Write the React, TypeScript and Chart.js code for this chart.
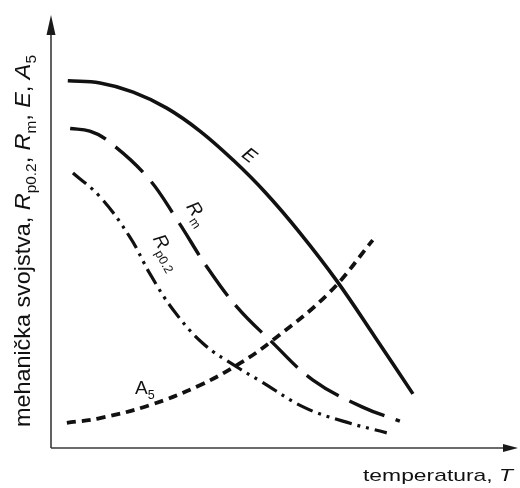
import { useEffect, useRef } from "react";
import { Chart, registerables } from "chart.js";

Chart.register(...registerables);

// Temperature (0-100, arbitrary units) and property values (0-100, arbitrary units)
const eTemps = [3.6, 10.5, 17.6, 24.8, 31.9, 39.0, 46.0, 53.3, 61.2, 69.4, 77.5];
const eValues = [84.8, 84.3, 82.2, 78.5, 73.2, 66.5, 58.9, 49.7, 38.6, 25.6, 12.5];

const rmTemps = [4.1, 8.3, 12.0, 20.6, 27.0, 33.4, 39.8, 46.9, 56.1, 66.6, 74.7];
const rmValues = [73.8, 73.2, 71.1, 62.6, 52.7, 41.8, 32.6, 24.9, 15.7, 9.5, 6.2];

const rpTemps = [4.7, 10.5, 16.9, 21.2, 26.1, 32.5, 39.8, 44.8, 54.0, 62.5, 71.9];
const rpValues = [63.5, 58.0, 48.7, 40.2, 32.0, 24.2, 18.7, 15.5, 9.5, 6.2, 3.5];

const a5Temps = [3.4, 10.5, 21.2, 31.9, 40.5, 47.5, 59.7, 68.9];
const a5Values = [5.8, 6.9, 9.9, 14.5, 19.6, 24.9, 36.0, 48.0];

// Curve labels: [main, subscript], anchor (temp, value), rotation (deg)
const labelMains = ["E", "R", "R", "A"];
const labelSubs = ["", "m", "p0.2", "5"];
const labelItalic = [true, true, true, false];
const labelTemps = [42.6, 31.5, 25.0, 20.1];
const labelValues = [67.7, 54.3, 45.3, 14.1];
const labelAngles = [38, 57, 61, 0];

const xTitle = [
  { t: "temperatura, " },
  { t: "T", italic: true },
];
const yTitle = [
  { t: "mehanička svojstva, " },
  { t: "R", italic: true },
  { t: "p0.2", sub: true },
  { t: ", " },
  { t: "R", italic: true },
  { t: "m", sub: true },
  { t: ", " },
  { t: "E", italic: true },
  { t: ", " },
  { t: "A", italic: true },
  { t: "5", sub: true },
];

type Seg = { t: string; italic?: boolean; sub?: boolean };
const FAMILY = '"Liberation Sans", Arial, Helvetica, sans-serif';

function segFont(s: Seg, size: number) {
  const sz = s.sub ? size * 0.66 : size;
  return `${s.italic ? "italic " : ""}${sz}px ${FAMILY}`;
}
function measureRich(ctx: CanvasRenderingContext2D, segs: Seg[], size: number) {
  let w = 0;
  for (const s of segs) {
    ctx.font = segFont(s, size);
    w += ctx.measureText(s.t).width;
  }
  return w;
}
function drawRich(ctx: CanvasRenderingContext2D, segs: Seg[], size: number, x: number, y: number) {
  let cx = x;
  for (const s of segs) {
    ctx.font = segFont(s, size);
    ctx.fillText(s.t, cx, y + (s.sub ? size * 0.28 : 0));
    cx += ctx.measureText(s.t).width;
  }
}

const toPts = (xs: number[], ys: number[]) => xs.map((x, i) => ({ x, y: ys[i] }));

const decorPlugin = {
  id: "decor",
  afterDraw(chart: any) {
    const ctx: CanvasRenderingContext2D = chart.ctx;
    const { left, right, top, bottom } = chart.chartArea;
    ctx.save();
    // axes
    ctx.strokeStyle = "#3a3a3a";
    ctx.fillStyle = "#1a1a1a";
    ctx.lineWidth = 1.6;
    ctx.beginPath();
    ctx.moveTo(left, bottom);
    ctx.lineTo(left, top + 14);
    ctx.moveTo(left, bottom);
    ctx.lineTo(right - 10, bottom);
    ctx.stroke();
    // arrow heads
    ctx.beginPath();
    ctx.moveTo(left, top);
    ctx.lineTo(left - 4.5, top + 20);
    ctx.lineTo(left + 4.5, top + 20);
    ctx.closePath();
    ctx.fill();
    ctx.beginPath();
    ctx.moveTo(right, bottom);
    ctx.lineTo(right - 15, bottom - 4);
    ctx.lineTo(right - 15, bottom + 4);
    ctx.closePath();
    ctx.fill();

    ctx.fillStyle = "#111";
    ctx.textBaseline = "alphabetic";
    ctx.textAlign = "left";

    // x title
    {
      const size = 16;
      const w = measureRich(ctx, xTitle, size);
      ctx.save();
      ctx.translate(363, 481);
      ctx.scale(150 / w, 1.05);
      drawRich(ctx, xTitle, size, 0, 0);
      ctx.restore();
    }
    // y title
    {
      const size = 18;
      const w = measureRich(ctx, yTitle, size);
      ctx.save();
      ctx.translate(30, 427);
      ctx.rotate(-Math.PI / 2);
      ctx.scale(372 / w, 1.2);
      drawRich(ctx, yTitle, size, 0, 0);
      ctx.restore();
    }
    // curve labels
    const xs = chart.scales.x;
    const ys = chart.scales.y;
    for (let i = 0; i < labelMains.length; i++) {
      const px = xs.getPixelForValue(labelTemps[i]);
      const py = ys.getPixelForValue(labelValues[i]);
      const segs: Seg[] = [{ t: labelMains[i], italic: labelItalic[i] }];
      if (labelSubs[i]) segs.push({ t: labelSubs[i], sub: true });
      const size = 19;
      const w = measureRich(ctx, segs, size);
      ctx.save();
      ctx.translate(px, py);
      ctx.rotate((labelAngles[i] * Math.PI) / 180);
      drawRich(ctx, segs, size, -w / 2, size * 0.36);
      ctx.restore();
    }
    ctx.restore();
  },
};

export default function App() {
  const ref = useRef<HTMLCanvasElement>(null);
  useEffect(() => {
    if (!ref.current) return;
    const common = {
      pointRadius: 0,
      fill: false,
      showLine: true,
      tension: 0.4,
      borderColor: "#111",
      clip: false as any,
      borderCapStyle: "butt" as const,
    };
    const chart = new Chart(ref.current, {
      type: "scatter",
      data: {
        datasets: [
          { ...common, label: "E", data: toPts(eTemps, eValues), borderWidth: 3.6 },
          { ...common, label: "Rm", data: toPts(rmTemps, rmValues), borderWidth: 3.4, borderDash: [38, 12] },
          { ...common, label: "Rp0.2", data: toPts(rpTemps, rpValues), borderWidth: 3.2, borderDash: [17, 6, 3, 6, 3, 6] },
          { ...common, label: "A5", data: toPts(a5Temps, a5Values), borderWidth: 3.8, borderDash: [9, 6] },
        ],
      },
      options: {
        responsive: false,
        animation: false,
        devicePixelRatio: 1,
        layout: { padding: { left: 51, right: 2, top: 15, bottom: 40 } },
        plugins: { legend: { display: false }, tooltip: { enabled: false } },
        scales: {
          x: { type: "linear", min: 0, max: 100, display: false },
          y: { type: "linear", min: 0, max: 100, display: false },
        },
      },
      plugins: [decorPlugin],
    });
    return () => chart.destroy();
  }, []);
  return (
    <div style={{ position: "absolute", left: 0, top: 0, width: 520, height: 488, background: "#fff" }}>
      <canvas ref={ref} width={520} height={488} style={{ display: "block" }} />
    </div>
  );
}
